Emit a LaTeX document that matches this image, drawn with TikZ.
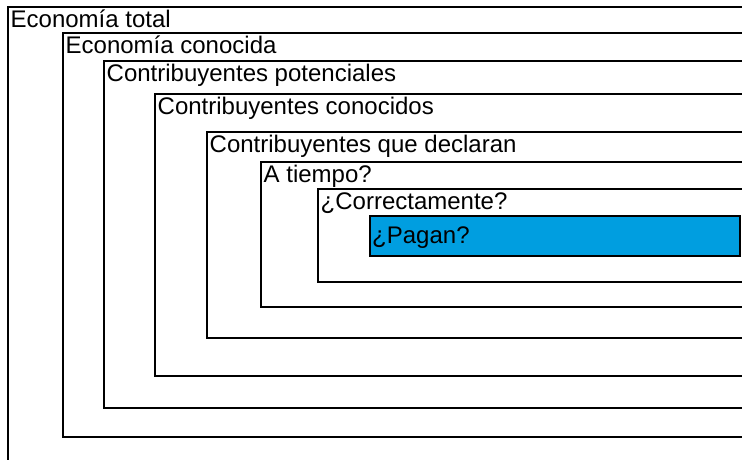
\documentclass[tikz,border=0pt]{standalone}
\usepackage{fontspec}
\setmainfont{Liberation Sans}
\definecolor{azulpago}{RGB}{0,158,224}
\tikzset{
  caja/.style={draw=black,line width=2pt},
  etiqueta/.style={anchor=base west,inner sep=0pt,font=\fontsize{24}{28}\selectfont}
}
\begin{document}
\begin{tikzpicture}[x=1pt,y=-1pt]
	% page frame
	\useasboundingbox (0,0) rectangle (742,460);
	\clip (0,0) rectangle (742,460);
	
	% nested boxes, open to the right
	\foreach \l/\t/\b/\n/\txt in {8/7/470/total/Economía total,
		63/33/437/conocida/Economía conocida,
		104/61/408/potenciales/Contribuyentes potenciales,
		155/94/376/conocidos/Contribuyentes conocidos,
		207/132/338/declaran/Contribuyentes que declaran,
		261/162/307/tiempo/A tiempo?,
		318/189/282/correcta/¿Correctamente?} {
		  % box
		  \draw[caja] (\l,\t) rectangle (770,\b);
		  % its title
		  \node[etiqueta] (\n) at (\l+2.5,\t+20.5) {\txt};
	}
	
	% innermost box
	\draw[caja,fill=azulpago] (370,216) rectangle (740,256);
	\node[etiqueta] (pagan) at (372,243.5) {¿Pagan?};
\end{tikzpicture}
\end{document}
